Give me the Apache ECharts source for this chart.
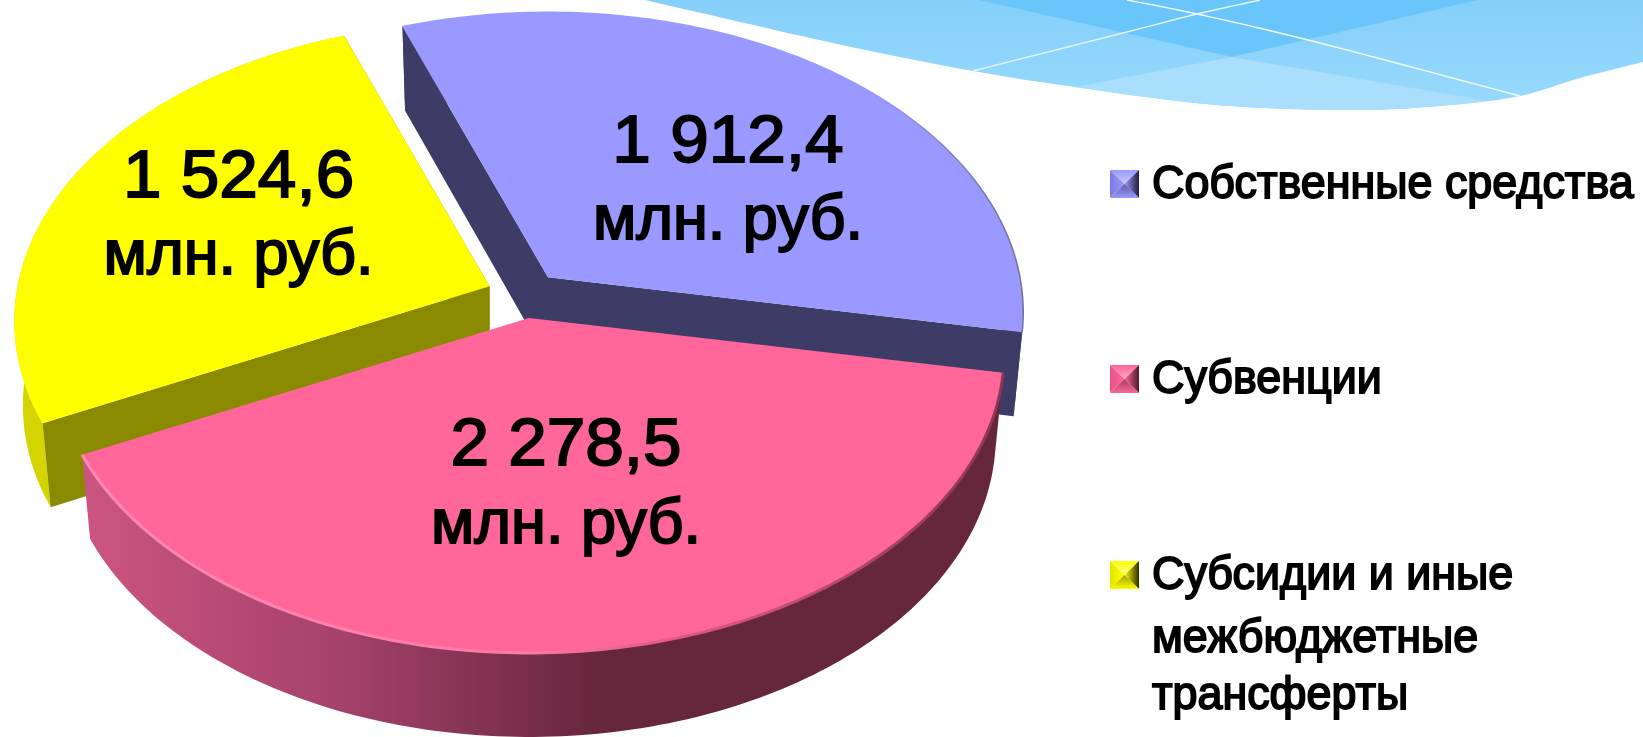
<!DOCTYPE html>
<html>
<head>
<meta charset="utf-8">
<style>html,body{margin:0;padding:0;background:#fff;overflow:hidden}#chart{width:1643px;height:737px}</style>
<script src="https://cdn.jsdelivr.net/npm/echarts@6/dist/echarts.min.js"></script>
</head>
<body>
<div id="chart"></div>
<script>
const categories = ['Собственные средства', 'Субвенции', 'Субсидии и иные межбюджетные трансферты'];
const values = [1912.4, 2278.5, 1524.6];
const valueLabels = ['1 912,4', '2 278,5', '1 524,6'];
const unitLabel = 'млн. руб.';
const legendLines = [['Собственные средства'], ['Субвенции'], ['Субсидии и иные', 'межбюджетные', 'трансферты']];

// --- styling and layout only ---
const FONT = '"Liberation Sans", Arial, sans-serif';
const topColors = ['#9999ff', '#ff6699', '#ffff00'];
const outerWall = ['#3d3c66', null, '#d4d400'];
const radialWall = ['#3d3c66', '#66263c', '#8a8a00'];
const drawOrder = [2, 0, 1];
const labelOffsets = [[180, -94], [37, 169], [-251, -68]];
const P = { cx: 524, cy: 295, a: 472, b: 296, persp: 0.1166, explode: 0.078, depth: 84, shrink: 0.982, startDeg: -110 };

const total = values.reduce((s, v) => s + v, 0);
function sliceAngles(i) {
  let start = P.startDeg;
  for (let k = 0; k < i; k++) start += values[k] / total * 360;
  return [start, start + values[i] / total * 360];
}
function project(deg, ox, oy) {
  const t = deg * Math.PI / 180, u = Math.cos(t), v = Math.sin(t), s = 1 / (1 - P.persp * v);
  return [ox + P.a * u * s, oy + P.b * v * s];
}
function drop(pt, ox) { return [ox + P.shrink * (pt[0] - ox), pt[1] + P.depth]; }

function renderSlice(params, api) {
  const i = api.value(0);
  const [a0, a1] = sliceAngles(i);
  const mid = (a0 + a1) / 2 * Math.PI / 180;
  const ox = P.cx + P.explode * 476 * Math.cos(mid);
  const oy = P.cy + P.explode * P.b * Math.sin(mid);
  const arc = [];
  for (let d = a0; d < a1; d += 1) arc.push(project(d, ox, oy));
  arc.push(project(a1, ox, oy));
  const apex = [ox, oy];
  const bottomArc = arc.map(p => drop(p, ox)).reverse();
  const first = arc[0], last = arc[arc.length - 1];
  const children = [];
  const wallFill = i === 1 ? {
    type: 'linear', global: true, x: 81, y: 0, x2: 600, y2: 0,
    colorStops: [{ offset: 0, color: '#cc5580' }, { offset: 0.5, color: '#a5426a' }, { offset: 1, color: '#66263c' }]
  } : outerWall[i];
  children.push({ type: 'polygon', shape: { points: arc.concat(bottomArc) }, style: { fill: wallFill } });
  const radialA = [apex, first, drop(first, ox), [ox, oy + P.depth]];
  const radialB = [apex, last, drop(last, ox), [ox, oy + P.depth]];
  const order = i === 2 ? [radialB, radialA] : [radialA, radialB];
  order.forEach(pts => { if (i !== 1) children.push({ type: 'polygon', shape: { points: pts }, style: { fill: radialWall[i] } }); });
  children.push({ type: 'polygon', shape: { points: [apex].concat(arc) }, style: { fill: topColors[i] } });
  if (i === 1) {
    children.push({ type: 'polyline', shape: { points: arc }, style: { fill: 'none', lineWidth: 3, stroke: {
      type: 'linear', global: true, x: 81, y: 0, x2: 1007, y2: 0,
      colorStops: [{ offset: 0, color: '#ff8ab4' }, { offset: 0.48, color: '#ff7aa8' }, { offset: 0.62, color: '#e65c8c' }, { offset: 1, color: '#8a3454' }] } } });
  } else if (i === 0) {
    children.push({ type: 'polyline', shape: { points: arc }, style: { fill: 'none', lineWidth: 1.5, stroke: {
      type: 'linear', global: true, x: 860, y: 0, x2: 1022, y2: 0,
      colorStops: [{ offset: 0, color: '#9999ff' }, { offset: 1, color: '#70709c' }] } } });
  }
  const [dx, dy] = labelOffsets[i];
  children.push({ type: 'text', x: ox + dx, y: oy + dy - 40, scaleX: 1.05, style: {
    text: valueLabels[i], x: 0, y: 0, align: 'center', verticalAlign: 'middle',
    font: '66px ' + FONT, fill: '#000', stroke: '#000', lineWidth: 1.8 } });
  children.push({ type: 'text', x: ox + dx, y: oy + dy + 38.5, style: {
    text: unitLabel, x: 0, y: 0, align: 'center', verticalAlign: 'middle',
    font: '63px ' + FONT, fill: '#000', stroke: '#000', lineWidth: 2 } });
  return { type: 'group', children };
}

// --- decorative header wave ---
function smoothLine(pts, steps) {
  const out = [];
  for (let i = 0; i < pts.length - 1; i++) {
    const p0 = pts[Math.max(i - 1, 0)], p1 = pts[i], p2 = pts[i + 1], p3 = pts[Math.min(i + 2, pts.length - 1)];
    for (let k = 0; k < steps; k++) {
      const t = k / steps, t2 = t * t, t3 = t2 * t;
      out.push([0, 1].map(j => 0.5 * (2 * p1[j] + (p2[j] - p0[j]) * t + (2 * p0[j] - 5 * p1[j] + 4 * p2[j] - p3[j]) * t2 + (3 * p1[j] - p0[j] - 3 * p2[j] + p3[j]) * t3)));
    }
  }
  out.push(pts[pts.length - 1]);
  return out;
}
const waveEdge = smoothLine([[645, 0], [723, 18], [851, 47], [973, 71], [1075, 87], [1216, 105], [1357, 110], [1450, 105], [1520, 96], [1580, 78], [1643, 62]], 8);
const lightEdge = waveEdge.filter(p => p[0] >= 1075 && p[0] <= 1483);
const wave = [
  { type: 'polygon', shape: { points: waveEdge.concat([[1643, 0]]) }, style: { fill: { type: 'linear', x: 0, y: 0, x2: 0, y2: 1, colorStops: [{ offset: 0, color: '#85cffa' }, { offset: 1, color: '#98dafc' }] } } },
  { type: 'polygon', shape: { points: [[979, 0], [1232, 57], [1478, 0]] }, style: { fill: '#6ac6fa' } },
  { type: 'polygon', shape: { points: [[1232, 57], [1483, 100]].concat(lightEdge.slice().reverse()) }, style: { fill: '#a9dffd' } },
  { type: 'polyline', shape: { points: smoothLine([[973, 71], [1123, 33], [1197, 14], [1260, 0]], 6) }, style: { fill: 'none', stroke: '#e8f7ff', lineWidth: 1.4 } },
  { type: 'polyline', shape: { points: smoothLine([[1127, 0], [1197, 14], [1312, 41], [1520, 96]], 6) }, style: { fill: 'none', stroke: '#f2fbff', lineWidth: 1.4 } }
];

// --- legend ---
const markerShades = [
  { c: '#9999ff', l: '#c8c8ff', m: '#7a7ae0', d: '#1e1e3c', b: '#5c5ca0' },
  { c: '#ff6699', l: '#ffa6c6', m: '#e6558a', d: '#4d1a2e', b: '#a03c64' },
  { c: '#ffff00', l: '#ffff90', m: '#e4e400', d: '#2e2e00', b: '#a0a000' }
];
const legendBoxes = [170, 365, 561];
const legendRows = [[185], [380], [576, 639, 696]];
function grad(horizontal, from, to) {
  return { type: 'linear', x: 0, y: 0, x2: horizontal ? 1 : 0, y2: horizontal ? 0 : 1, colorStops: [{ offset: 0, color: from }, { offset: 1, color: to }] };
}
function marker(i) {
  const x = 1110, y = legendBoxes[i], w = 29, h = 28;
  const s = markerShades[i];
  const c = [x + w / 2, y + h / 2];
  return [
    { type: 'polygon', shape: { points: [[x, y], [x + w, y], c] }, style: { fill: grad(false, s.c, s.l) } },
    { type: 'polygon', shape: { points: [[x, y], [x, y + h], c] }, style: { fill: grad(true, s.m, s.c) } },
    { type: 'polygon', shape: { points: [[x + w, y], [x + w, y + h], c] }, style: { fill: grad(true, s.c, s.d) } },
    { type: 'polygon', shape: { points: [[x, y + h], [x + w, y + h], c] }, style: { fill: grad(false, s.b, s.c) } }
  ];
}
const legendEls = [];
categories.forEach((c, i) => {
  legendEls.push(...marker(i));
  legendLines[i].forEach((line, k) => {
    legendEls.push({ type: 'text', x: 1152, y: legendRows[i][k], scaleX: 0.975, style: {
      text: line, x: 0, y: 0, align: 'left', verticalAlign: 'middle',
      font: '46px ' + FONT, fill: '#000', stroke: '#000', lineWidth: 1.8 } });
  });
});

const chart = echarts.init(document.getElementById('chart'), null, { renderer: 'canvas' });
chart.setOption({
  animation: false,
  backgroundColor: '#fff',
  graphic: { elements: wave.concat(legendEls) },
  series: [{
    type: 'custom',
    coordinateSystem: 'none',
    renderItem: renderSlice,
    silent: true,
    data: drawOrder.map(i => ({ name: categories[i], value: [i, values[i]] }))
  }]
});
</script>
</body>
</html>
